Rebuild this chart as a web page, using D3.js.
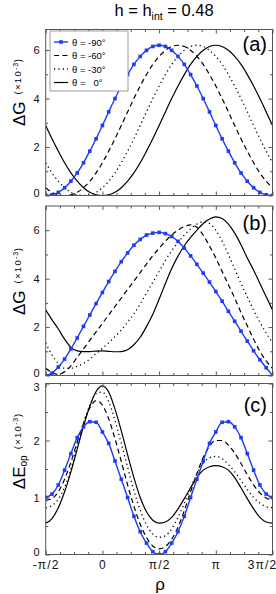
<!DOCTYPE html>
<html lang="en">
<head>
    <meta charset="UTF-8">
    <title>h = h_int = 0.48</title>
    <script src="https://d3js.org/d3.v7.min.js"></script>
    <style>
        body { margin: 0; background: #fff; }
        svg { display: block; font-family: "Liberation Sans", Arial, sans-serif; }
        .tick text { font-family: "Liberation Sans", Arial, sans-serif; }
    </style>
</head>
<body>
    <div id="chart"></div>

    <script>
        // rho in degrees (-pi/2 .. 3pi/2), one point every 10 degrees
        const rho = [-90, -80, -70, -60, -50, -40, -30, -20, -10, 0, 10, 20, 30, 40, 50, 60, 70, 80, 90,
                     100, 110, 120, 130, 140, 150, 160, 170, 180, 190, 200, 210, 220, 230, 240, 250, 260, 270];

        // panel (a): Delta G (x10^-3)
        const aBlue  = [0, 0.03, 0.13, 0.32, 0.59, 0.93, 1.35, 1.83, 2.34, 2.89, 3.45, 4.0, 4.52, 4.99, 5.41, 5.74, 5.99, 6.15, 6.2,
                        6.15, 5.99, 5.74, 5.41, 4.99, 4.52, 4.0, 3.45, 2.89, 2.34, 1.83, 1.35, 0.93, 0.59, 0.32, 0.13, 0.03, 0];
        const aDash  = [0.32, 0.13, 0.03, 0, 0.03, 0.13, 0.32, 0.59, 0.93, 1.35, 1.83, 2.34, 2.89, 3.45, 4.0, 4.52, 4.99, 5.41, 5.74,
                        5.99, 6.15, 6.2, 6.15, 5.99, 5.74, 5.41, 4.99, 4.52, 4.0, 3.45, 2.89, 2.34, 1.83, 1.35, 0.93, 0.59, 0.32];
        const aDot   = [1.35, 0.93, 0.59, 0.32, 0.13, 0.03, 0, 0.03, 0.13, 0.32, 0.59, 0.93, 1.35, 1.83, 2.34, 2.89, 3.45, 4.0, 4.52,
                        4.99, 5.41, 5.74, 5.99, 6.15, 6.2, 6.15, 5.99, 5.74, 5.41, 4.99, 4.52, 4.0, 3.45, 2.89, 2.34, 1.83, 1.35];
        const aSolid = [2.89, 2.34, 1.83, 1.35, 0.93, 0.59, 0.32, 0.13, 0.03, 0, 0.03, 0.13, 0.32, 0.59, 0.93, 1.35, 1.83, 2.34, 2.89,
                        3.45, 4.0, 4.52, 4.99, 5.41, 5.74, 5.99, 6.15, 6.2, 6.15, 5.99, 5.74, 5.41, 4.99, 4.52, 4.0, 3.45, 2.89];

        // panel (b): Delta G (x10^-3)
        const bBlue  = [0, 0.1, 0.35, 0.68, 1.1, 1.55, 2.03, 2.5, 2.97, 3.43, 3.88, 4.3, 4.7, 5.06, 5.38, 5.62, 5.8, 5.88, 5.91,
                        5.86, 5.74, 5.54, 5.26, 4.94, 4.59, 4.23, 3.86, 3.47, 3.07, 2.65, 2.24, 1.83, 1.42, 1.02, 0.65, 0.32, 0];
        const bDash  = [0.3, 0.12, 0.05, 0.15, 0.4, 0.75, 1.1, 1.45, 1.8, 2.15, 2.5, 2.85, 3.2, 3.55, 3.9, 4.25, 4.6, 4.95, 5.25,
                        5.55, 5.8, 6.0, 6.15, 6.22, 6.12, 5.8, 5.35, 4.85, 4.3, 3.75, 3.2, 2.6, 2.05, 1.5, 1.0, 0.6, 0.3];
        const bDot   = [1.35, 0.85, 0.5, 0.3, 0.3, 0.38, 0.5, 0.68, 0.9, 1.12, 1.35, 1.6, 1.88, 2.2, 2.55, 2.95, 3.4, 3.85, 4.3,
                        4.75, 5.15, 5.5, 5.8, 6.05, 6.25, 6.35, 6.28, 6.0, 5.55, 5.0, 4.4, 3.8, 3.25, 2.7, 2.2, 1.75, 1.35];
        const bSolid = [2.71, 2.3, 1.92, 1.5, 1.16, 1.02, 0.99, 0.99, 1.01, 1.02, 1.0, 0.98, 0.99, 1.06, 1.27, 1.58, 2.02, 2.53, 3.15,
                        3.8, 4.42, 4.93, 5.36, 5.7, 6.0, 6.28, 6.46, 6.55, 6.48, 6.25, 5.88, 5.4, 4.85, 4.35, 3.8, 3.25, 2.71];

        // panel (c): Delta E_op (x10^-3)
        const cBlue  = [1.0, 1.06, 1.22, 1.48, 1.77, 2.05, 2.24, 2.33, 2.32, 2.15, 1.95, 1.64, 1.32, 1.0, 0.67, 0.4, 0.2, 0.05, 0,
                        0.05, 0.2, 0.4, 0.67, 1.0, 1.32, 1.64, 1.95, 2.15, 2.32, 2.33, 2.24, 2.05, 1.77, 1.48, 1.22, 1.06, 1.0];
        const cDash  = [0.95, 0.98, 1.1, 1.32, 1.62, 1.97, 2.3, 2.57, 2.7, 2.62, 2.38, 2.03, 1.63, 1.22, 0.85, 0.53, 0.3, 0.15, 0.1,
                        0.14, 0.27, 0.48, 0.77, 1.1, 1.42, 1.7, 1.9, 2.0, 2.0, 1.92, 1.78, 1.6, 1.4, 1.22, 1.08, 0.99, 0.95];
        const cDot   = [0.82, 0.86, 0.97, 1.18, 1.5, 1.9, 2.3, 2.62, 2.82, 2.85, 2.68, 2.35, 1.95, 1.53, 1.12, 0.78, 0.52, 0.36, 0.3,
                        0.33, 0.45, 0.65, 0.9, 1.17, 1.42, 1.6, 1.7, 1.72, 1.68, 1.58, 1.45, 1.3, 1.14, 1.0, 0.9, 0.84, 0.82];
        const cSolid = [0.55, 0.63, 0.82, 1.1, 1.45, 1.85, 2.25, 2.6, 2.86, 2.96, 2.85, 2.55, 2.17, 1.75, 1.35, 1.0, 0.75, 0.6, 0.55,
                        0.57, 0.65, 0.8, 0.98, 1.17, 1.35, 1.48, 1.54, 1.56, 1.54, 1.48, 1.35, 1.17, 0.98, 0.8, 0.65, 0.57, 0.55];

        // legend + ticks
        const seriesNames = ["θ = -90°", "θ = -60°", "θ = -30°", "θ =   0°"];
        const xMajor = [-90, 0, 90, 180, 270];
        const xLabels = ["-π/2", "0", "π/2", "π", "3π/2"];
        const xMinor = [-67.5, -45, -22.5, 22.5, 45, 67.5, 112.5, 135, 157.5, 202.5, 225, 247.5];
        const gMajor = [0, 2, 4, 6];
        const gMinor = [1, 3, 5];
        const eMajor = [0, 1, 2, 3];
        const eMinor = [0.5, 1.5, 2.5];

        const width = 276, height = 594;
        const blue = "#1f3cf5";
        const frameColor = "#555";

        const svg = d3.select("#chart").append("svg")
            .attr("width", width)
            .attr("height", height);

        const x = d3.scaleLinear().domain([-90, 270]).range([45.7, 272.5]);

        const panels = [
            { tag: "(a)", top: 29.5, bottom: 195.5, ymax: 6.85, major: gMajor, minor: gMinor,
              data: [aBlue, aDash, aDot, aSolid], lab: "G", labY: 92.5, tagY: 51 },
            { tag: "(b)", top: 206, bottom: 375.5, ymax: 7, major: gMajor, minor: gMinor,
              data: [bBlue, bDash, bDot, bSolid], lab: "G", labY: 281.5, tagY: 230 },
            { tag: "(c)", top: 383.5, bottom: 554.5, ymax: 3, major: eMajor, minor: eMinor,
              data: [cBlue, cDash, cDot, cSolid], lab: "E", labY: 451.5, tagY: 412 }
        ];

        // style per series: blue w/ markers, dashed, dotted, solid
        const styles = [
            { color: blue, dash: null, width: 1.4, marker: true },
            { color: "#000", dash: "5,3.5", width: 1.2 },
            { color: "#000", dash: "1.2,3.2", width: 1.3 },
            { color: "#000", dash: null, width: 1.2 }
        ];

        // title
        const title = svg.append("text")
            .attr("x", 164)
            .attr("y", 16)
            .attr("text-anchor", "middle")
            .style("font-size", "16.5px");
        title.append("tspan").text("h = h");
        title.append("tspan").attr("dy", 4).style("font-size", "10.5px").text("int");
        title.append("tspan").attr("dy", -4).text(" = 0.48");

        panels.forEach((p, pi) => {
            const y = d3.scaleLinear().domain([0, p.ymax]).range([p.bottom, p.top]);
            const clipId = "clip" + pi;

            svg.append("clipPath").attr("id", clipId)
                .append("rect")
                .attr("x", x.range()[0]).attr("y", p.top)
                .attr("width", x.range()[1] - x.range()[0])
                .attr("height", p.bottom - p.top);

            const g = svg.append("g").attr("clip-path", `url(#${clipId})`);

            const line = d3.line()
                .x((d, i) => x(rho[i]))
                .y(d => y(d))
                .curve(d3.curveMonotoneX);

            // draw black ones first, blue on top
            [3, 2, 1, 0].forEach(k => {
                const st = styles[k];
                g.append("path")
                    .datum(p.data[k])
                    .attr("d", line)
                    .attr("fill", "none")
                    .attr("stroke", st.color)
                    .attr("stroke-width", st.width)
                    .attr("stroke-dasharray", st.dash);
                if (st.marker) {
                    g.selectAll(".mk" + pi)
                        .data(p.data[k])
                        .enter().append("rect")
                        .attr("class", "mk" + pi)
                        .attr("x", (d, i) => x(rho[i]) - 1.8)
                        .attr("y", d => y(d) - 1.8)
                        .attr("width", 3.6)
                        .attr("height", 3.6)
                        .attr("fill", st.color);
                }
            });

            // frame
            svg.append("rect")
                .attr("x", x.range()[0]).attr("y", p.top)
                .attr("width", x.range()[1] - x.range()[0])
                .attr("height", p.bottom - p.top)
                .attr("fill", "none")
                .attr("stroke", frameColor)
                .attr("stroke-width", 1);

            const last = pi === panels.length - 1;

            // inward ticks on all four sides
            const axes = [
                { a: d3.axisBottom(x).tickValues(xMajor).tickSizeInner(-4), t: `translate(0,${p.bottom})`, lbl: last },
                { a: d3.axisBottom(x).tickValues(xMinor).tickSizeInner(-2.5), t: `translate(0,${p.bottom})` },
                { a: d3.axisTop(x).tickValues(xMajor).tickSizeInner(-4), t: `translate(0,${p.top})` },
                { a: d3.axisTop(x).tickValues(xMinor).tickSizeInner(-2.5), t: `translate(0,${p.top})` },
                { a: d3.axisLeft(y).tickValues(p.major).tickSizeInner(-4), t: `translate(${x.range()[0]},0)`, lbl: true },
                { a: d3.axisLeft(y).tickValues(p.minor).tickSizeInner(-2.5), t: `translate(${x.range()[0]},0)` },
                { a: d3.axisRight(y).tickValues(p.major).tickSizeInner(-4), t: `translate(${x.range()[1]},0)` },
                { a: d3.axisRight(y).tickValues(p.minor).tickSizeInner(-2.5), t: `translate(${x.range()[1]},0)` }
            ];
            axes.forEach((ax, ai) => {
                ax.a.tickSizeOuter(0);
                if (ax.lbl) {
                    if (ai === 0) {
                        ax.a.tickPadding(6).tickFormat((d, i) => xLabels[i]);
                    } else {
                        ax.a.tickPadding(6).tickFormat(d3.format("d"));
                    }
                } else {
                    ax.a.tickFormat("");
                }
                const ag = svg.append("g").attr("transform", ax.t).call(ax.a);
                ag.select(".domain").remove();
                ag.selectAll(".tick line").attr("stroke", frameColor);
                ag.selectAll(".tick text")
                    .attr("fill", "#111")
                    .style("font-size", ai === 0 ? "12px" : "11px")
                    .style("letter-spacing", ai === 0 ? "1.2px" : null);
                if (ai === 0) {
                    // keep 3pi/2 inside the picture
                    ag.selectAll(".tick text")
                        .filter(d => d === 270)
                        .attr("text-anchor", "end")
                        .attr("x", 4.5);
                }
                if (ai === 4) {
                    // nudge the extreme labels inward like the original
                    ag.selectAll(".tick text")
                        .filter(d => d === 0)
                        .attr("y", -2.5);
                    if (last) {
                        ag.selectAll(".tick text")
                            .filter(d => d === p.ymax)
                            .attr("y", 3.5);
                    }
                }
            });

            // panel tag
            svg.append("text")
                .attr("x", 267)
                .attr("y", p.tagY)
                .attr("text-anchor", "end")
                .style("font-size", "20px")
                .text(p.tag);

            // y label, rotated
            const yl = svg.append("text")
                .attr("transform", `translate(24.5,${p.labY}) rotate(-90)`)
                .attr("text-anchor", "middle");
            yl.append("tspan").style("font-size", "17px").text("Δ" + p.lab);
            if (p.lab === "E") {
                yl.append("tspan").attr("dy", 2).style("font-size", "10px").text("op");
                yl.append("tspan").attr("dy", -5.5).attr("dx", 6)
                    .style("font-size", "9.5px").style("letter-spacing", "1.3px").text("(×10");
            } else {
                yl.append("tspan").attr("dy", -3.5).attr("dx", 7)
                    .style("font-size", "9.5px").style("letter-spacing", "1.3px").text("(×10");
            }
            yl.append("tspan").attr("dy", -3.5).style("font-size", "7px").style("letter-spacing", "0.8px").text("-3");
            yl.append("tspan").attr("dy", 3.5).style("font-size", "9.5px").text(")");
        });

        // x axis title
        svg.append("text")
            .attr("x", 160)
            .attr("y", 590)
            .attr("text-anchor", "middle")
            .style("font-size", "17px")
            .text("ρ");

        // legend (top left of panel a)
        const lg = svg.append("g").attr("transform", "translate(50,31)");
        lg.append("rect")
            .attr("width", 78).attr("height", 60)
            .attr("fill", "#fff")
            .attr("stroke", "#888")
            .attr("stroke-width", 0.8);
        seriesNames.forEach((name, i) => {
            const st = styles[i];
            const ly = 11 + i * 13.5;
            lg.append("line")
                .attr("x1", 4).attr("x2", 18)
                .attr("y1", ly).attr("y2", ly)
                .attr("stroke", st.color)
                .attr("stroke-width", st.width)
                .attr("stroke-dasharray", st.dash);
            if (st.marker) {
                lg.append("rect")
                    .attr("x", 9.2).attr("y", ly - 1.8)
                    .attr("width", 3.6).attr("height", 3.6)
                    .attr("fill", st.color);
            }
            lg.append("text")
                .attr("x", 22)
                .attr("y", ly + 3.5)
                .style("font-size", "9.5px")
                .style("white-space", "pre")
                .text(name);
        });
    </script>
</body>
</html>
